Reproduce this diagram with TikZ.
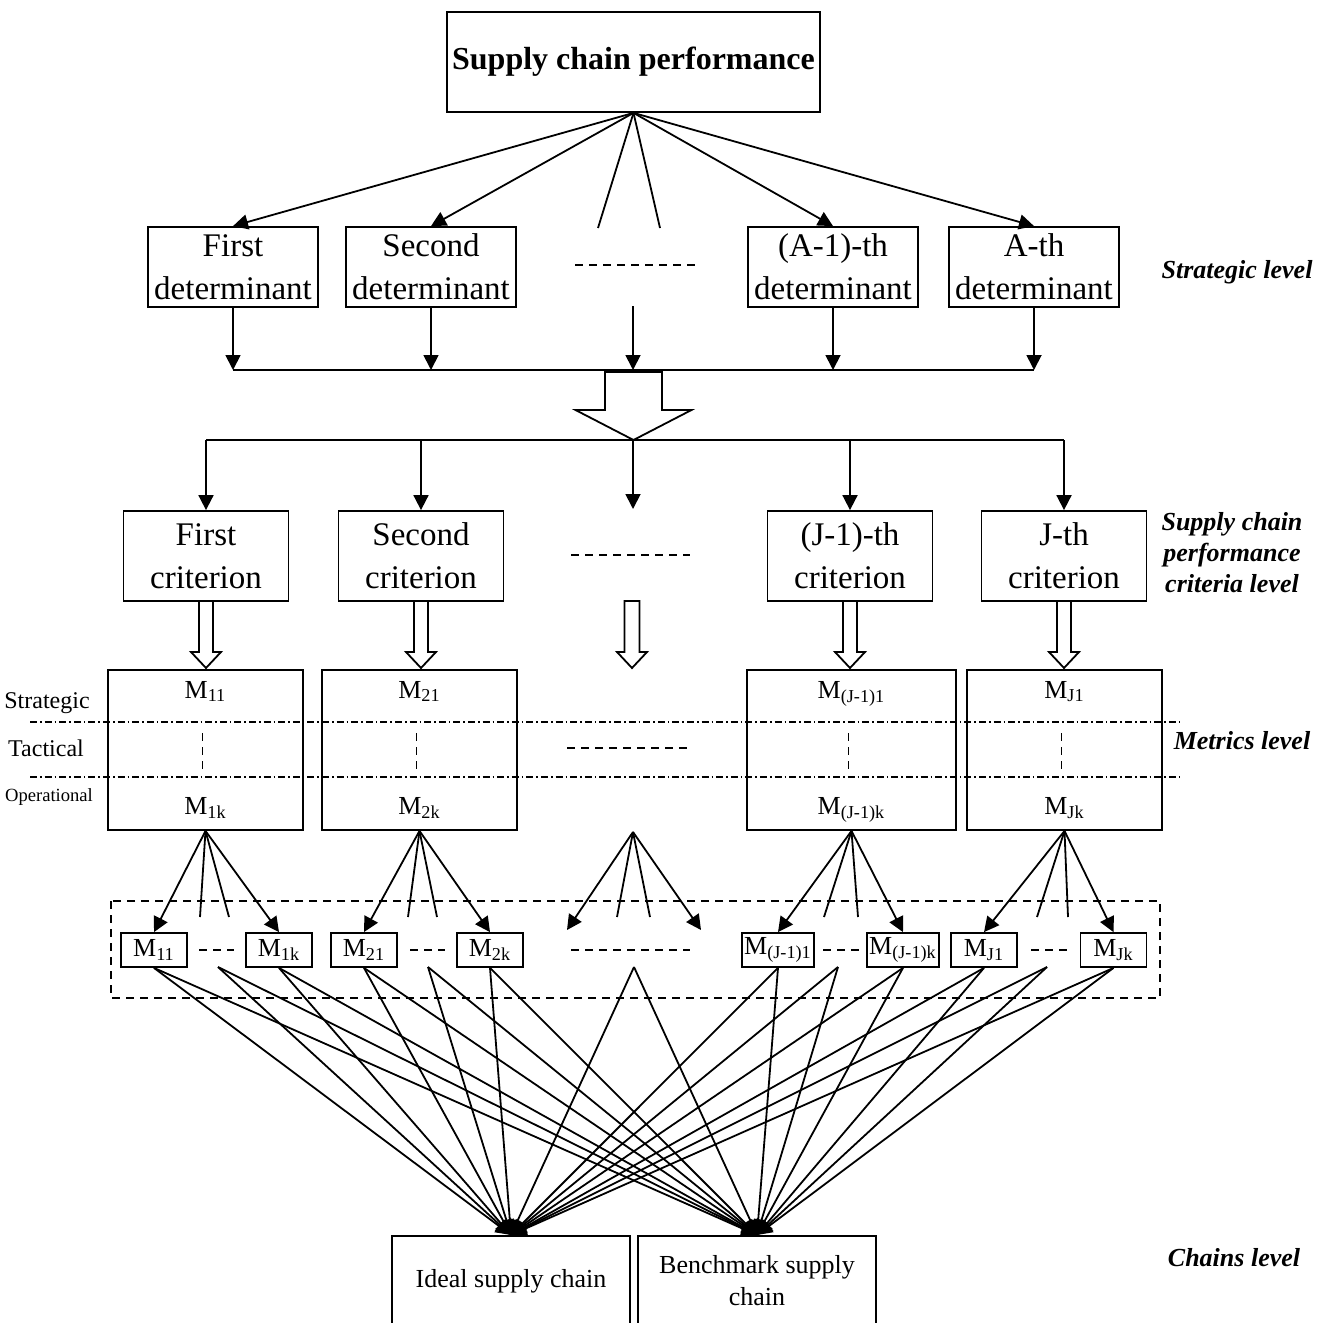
\documentclass[tikz,border=0pt]{standalone}
\usepackage{fontspec}
\setmainfont{Liberation Serif}
\usetikzlibrary{arrows.meta}
% hollow block arrow pointing down: x, top, neck, tip, half shaft, half head
\newcommand{\hollowdown}[6]{\draw[fill=white] (#1-#5,#2) -- (#1-#5,#3) -- (#1-#6,#3) -- (#1,#4) -- (#1+#6,#3) -- (#1+#5,#3) -- (#1+#5,#2) -- cycle;}

\begin{document}
\begin{tikzpicture}[x=0.5pt,y=-0.5pt,line width=0.9pt,line join=miter,
  box/.style={draw,align=center,inner sep=1pt,font=\fontsize{16.5}{21.5}\selectfont},
  mbox/.style={draw,inner sep=1pt,minimum height=17pt,font=\fontsize{13}{15}\selectfont},
  mtxt/.style={font=\fontsize{13}{15}\selectfont,inner sep=0pt,anchor=base},
  lvl/.style={font=\fontsize{13}{15.5}\selectfont\bfseries\itshape,align=center},
  tier/.style={font=\fontsize{12}{14}\selectfont,inner sep=0pt},
  arr/.style={-{Triangle[length=7.5pt,width=7.5pt]}},
  ellip/.style={dash pattern=on 4pt off 3pt},
  tierline/.style={line width=0.6pt,dash pattern=on 3.5pt off 1.5pt on 0.8pt off 1.5pt}]
  \useasboundingbox (0,0) rectangle (1332,1322);
  \clip (0,0) rectangle (1332,1322);

  % strategic level
  \node[box,font=\fontsize{16}{19}\selectfont\bfseries,minimum width=186.5pt,minimum height=50pt] (scp) at (633.5,62) {Supply chain performance};
  \foreach \n/\x/\t in {d1/233/First,d2/431/Second,d3/833/{(A-1)-th},d4/1034/A-th}{
    \node[box,minimum width=85pt,minimum height=40pt] (\n) at (\x,267) {\t\\determinant};
    \draw[arr] (scp.south) -- (\n.north);}
  \coordinate (f1) at (598,228);
  \coordinate (f2) at (660,228);
  \draw (scp.south) -- (f1);
  \draw (scp.south) -- (f2);
  \draw[ellip] (575,265) -- (695,265);
  \coordinate (bus) at (633,370);
  \coordinate (dmid) at (633,306);
  \foreach \n in {d1,d2,d3,d4}{\draw[arr] (\n.south) -- (\n.south |- bus);}
  \draw[arr] (dmid) -- (bus);
  \draw (d1.south |- bus) -- (d4.south |- bus);
  \hollowdown{633.5}{372}{410}{440}{28.5}{58}

  % criteria level
  \coordinate (split) at (633,440);
  \coordinate (cmid) at (633,509);
  \foreach \n/\x/\t in {c1/206/First,c2/421/Second,c3/850/{(J-1)-th},c4/1064/J-th}{
    \node[box,minimum width=82.5pt,minimum height=45pt] (\n) at (\x,556) {\t\\criterion};
    \draw[arr] (\n.north |- split) -- (\n.north);
    \hollowdown{\x}{601}{652}{668}{7}{15}}
  \draw (c1.north |- split) -- (c4.north |- split);
  \draw[arr] (split) -- (cmid);
  \draw[ellip] (571,555) -- (690,555);
  \hollowdown{632}{601}{652}{668}{7.5}{15}

  % metrics level
  \foreach \n/\x/\w/\s in {m1/205.5/97.5/1,m2/419.5/97.5/2,m3/851.5/104.5/{(J-1)},m4/1064.5/97.5/J}{
    \node[draw,minimum width=\w pt,minimum height=80pt] (\n) at (\x,750) {};
    \node[mtxt] (\n-hi) at (\x,698) {M\textsubscript{\s1}};
    \node[mtxt] (\n-lo) at (\x,814) {M\textsubscript{\s k}};
    \draw[ellip] (\x-3,733) -- (\x-3,770);}
  \draw[tierline] (30,722) -- (1180,722);
  \draw[tierline] (30,777) -- (1180,777);
  \node[tier] (strat) at (47,703) {Strategic};
  \node[tier] (tact) at (46,748) {Tactical};
  \node[tier,font=\fontsize{9.3}{11}\selectfont] (oper) at (49,797) {Operational};
  \draw[ellip] (567,748) -- (687,748);

  % single metrics
  \foreach \n/\x/\s in {s11/154/11,s1k/279/1k,s21/364/21,s2k/490/2k,s31/778/{(J-1)1},s3k/903/{(J-1)k},s41/984/J1,s4k/1113.5/Jk}{
    \node[mbox,minimum width=33pt] (\n) at (\x,950) {M\textsubscript{\s}};}
  \foreach \m/\a/\b/\p/\q in {m1/s11/s1k/200/229,m2/s21/s2k/408/437,m3/s31/s3k/824/858,m4/s41/s4k/1037/1068}{
    \draw[arr] (\m.south) -- (\a.north);
    \draw[arr] (\m.south) -- (\b.north);
    \draw (\m.south) -- (\p,917);
    \draw (\m.south) -- (\q,917);}
  \coordinate (mmid) at (633,832);
  \coordinate (ma) at (567,930);
  \coordinate (mb) at (701,930);
  \draw[arr] (mmid) -- (ma);
  \draw[arr] (mmid) -- (mb);
  \draw (mmid) -- (617,917);
  \draw (mmid) -- (650,917);
  \draw[ellip] (111,901) rectangle (1160,998);
  \foreach \a/\b in {199/234,410/445,823/859,1031/1067}{\draw[ellip] (\a,950) -- (\b,950);}
  \draw[ellip] (571,950) -- (690,950);

  % chains level
  \node[draw,anchor=north,minimum width=119pt,minimum height=45pt,font=\fontsize{13}{16}\selectfont] (ideal) at (511,1235) {Ideal supply chain};
  \node[draw,anchor=north,minimum width=119pt,minimum height=45pt,align=center,font=\fontsize{13}{16}\selectfont] (bench) at (757,1235) {Benchmark supply\\chain};
  \coordinate (g1) at (218,967);
  \coordinate (g2) at (428,967);
  \coordinate (gm) at (634,967);
  \coordinate (g3) at (838,967);
  \coordinate (g4) at (1047,967);
  \foreach \s in {s11.south,g1,s1k.south,s21.south,g2,s2k.south,gm,s31.south,g3,s3k.south,s41.south,g4,s4k.south}{
    \draw[arr] (\s) -- (ideal.north);
    \draw[arr] (\s) -- (bench.north);}

  % level names
  \node[lvl] (lstrat) at (1237,272) {Strategic level};
  \node[lvl] (lcrit) at (1232,553) {Supply chain\\performance\\criteria level};
  \node[lvl] (lmet) at (1242,741) {Metrics level};
  \node[lvl] (lchain) at (1234,1258) {Chains level};
\end{tikzpicture}
\end{document}
